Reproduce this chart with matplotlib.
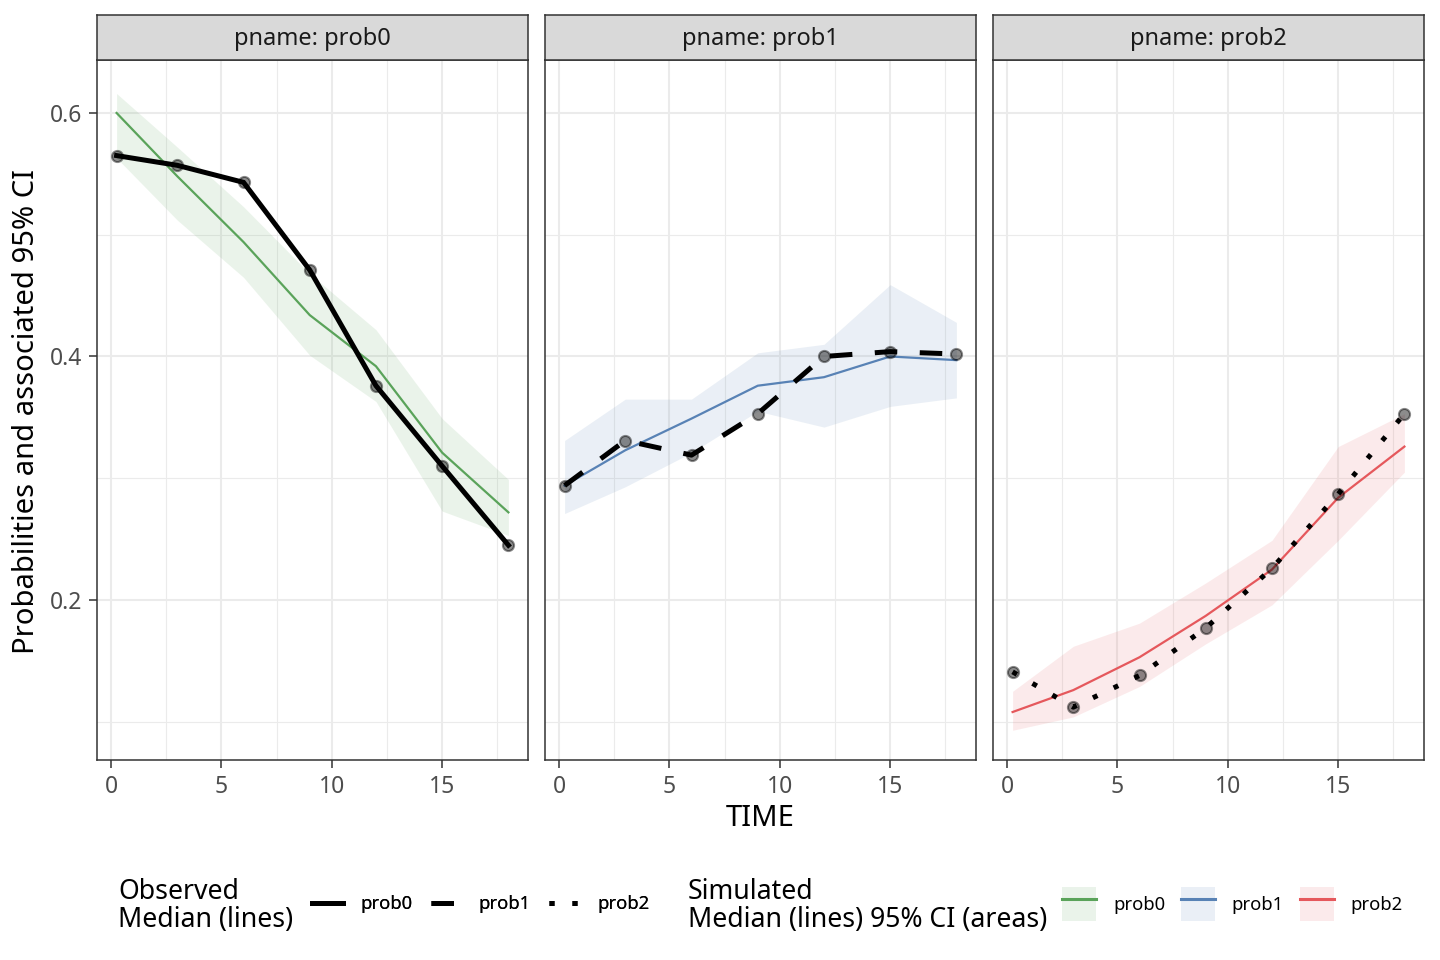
import matplotlib
matplotlib.use("Agg")
import matplotlib.pyplot as plt
from matplotlib.lines import Line2D
from matplotlib.patches import Patch
from matplotlib.legend_handler import HandlerTuple

plt.rcParams['font.family'] = ['Noto Sans', 'DejaVu Sans']

# ---------------- data ----------------
time = [0.25, 3, 6, 9, 12, 15, 18]
panels = ["prob0", "prob1", "prob2"]

obs_prob0 = [0.565, 0.557, 0.543, 0.471, 0.376, 0.310, 0.245]
obs_prob1 = [0.294, 0.331, 0.319, 0.353, 0.400, 0.404, 0.402]
obs_prob2 = [0.141, 0.112, 0.138, 0.177, 0.226, 0.287, 0.353]

sim_med0 = [0.600, 0.548, 0.494, 0.434, 0.392, 0.321, 0.272]
sim_lo0 = [0.563, 0.512, 0.465, 0.401, 0.363, 0.273, 0.253]
sim_hi0 = [0.616, 0.572, 0.523, 0.468, 0.422, 0.349, 0.299]

sim_med1 = [0.294, 0.323, 0.349, 0.376, 0.383, 0.400, 0.397]
sim_lo1 = [0.271, 0.293, 0.321, 0.355, 0.342, 0.359, 0.366]
sim_hi1 = [0.331, 0.365, 0.365, 0.403, 0.410, 0.459, 0.428]

sim_med2 = [0.108, 0.126, 0.153, 0.187, 0.225, 0.284, 0.326]
sim_lo2 = [0.093, 0.104, 0.129, 0.164, 0.196, 0.249, 0.305]
sim_hi2 = [0.125, 0.162, 0.181, 0.214, 0.249, 0.326, 0.353]

x_ticks = [0, 5, 10, 15]
y_ticks = [0.2, 0.4, 0.6]

obs = [obs_prob0, obs_prob1, obs_prob2]
meds = [sim_med0, sim_med1, sim_med2]
los = [sim_lo0, sim_lo1, sim_lo2]
his = [sim_hi0, sim_hi1, sim_hi2]

# ---------------- style ----------------
colors = ["#5aa35a", "#5882b5", "#e5585c"]
fill_alpha = 0.12
obs_lw = 3.6
obs_styles = ["solid", (0, (4.5, 4.5)), (0, (1, 3.6))]
border_col = "#333333"
grid_col = "#EBEBEB"
tick_col = "#4D4D4D"

W, H = 1440, 960
fig = plt.figure(figsize=(14.4, 9.6), dpi=100)

lefts = [97, 545, 993]
pw = 431
ptop, pbot = 60, 760
strip_top = 15

xlim = (-0.6375, 18.8875)
ylim = (0.0686, 0.6435)

for i, name in enumerate(panels):
    ax = fig.add_axes([lefts[i] / W, 1 - pbot / H, pw / W, (pbot - ptop) / H])
    ax.set_xlim(*xlim)
    ax.set_ylim(*ylim)
    ax.set_xticks(x_ticks)
    ax.set_xticks([2.5, 7.5, 12.5, 17.5], minor=True)
    ax.set_yticks(y_ticks)
    ax.set_yticks([0.1, 0.3, 0.5], minor=True)
    ax.grid(True, which="major", color=grid_col, lw=1.5)
    ax.grid(True, which="minor", color=grid_col, lw=0.8)
    ax.set_axisbelow(True)
    for s in ax.spines.values():
        s.set_color(border_col)
        s.set_linewidth(1.1)
    ax.tick_params(axis="both", which="major", length=5.5, width=1.1, color=border_col,
                   labelcolor=tick_col, labelsize=16.5, pad=5)
    ax.tick_params(axis="both", which="minor", length=0)
    if i == 0:
        ax.set_yticklabels([f"{v:.1f}" for v in y_ticks])
    else:
        ax.tick_params(axis="y", which="major", length=0, labelleft=False)

    ax.fill_between(time, los[i], his[i], color=colors[i], alpha=fill_alpha, lw=0, zorder=2)
    ax.plot(time, meds[i], color=colors[i], lw=1.6, zorder=3)
    ax.plot(time, obs[i], color="black", lw=obs_lw, linestyle=obs_styles[i],
            dash_capstyle="butt", solid_joinstyle="miter", zorder=4)
    ax.plot(time, obs[i], linestyle="none", marker="o", markersize=8,
            markerfacecolor="black", markeredgecolor="black", markeredgewidth=1.5,
            alpha=0.45, zorder=5)

    # strip
    sax = fig.add_axes([lefts[i] / W, 1 - ptop / H, pw / W, (ptop - strip_top) / H])
    sax.set_facecolor("#D9D9D9")
    sax.set_xticks([])
    sax.set_yticks([])
    for s in sax.spines.values():
        s.set_color(border_col)
        s.set_linewidth(1.1)
    sax.text(0.5, 0.47, f"pname: {name}", ha="center", va="center", fontsize=17,
             color="#1A1A1A", transform=sax.transAxes)

fig.text(27 / W, 1 - 412 / H, "Probabilities and associated 95% CI", rotation=90,
         ha="center", va="center", fontsize=21, color="black")
fig.text(760 / W, 1 - 819 / H, "TIME", ha="center", va="center", fontsize=21, color="black")

# ---------------- legends ----------------
fig.text(118 / W, 1 - 906 / H, "Observed\nMedian (lines)", ha="left", va="center",
         fontsize=19.2, linespacing=1.04)
fig.text(688 / W, 1 - 906 / H, "Simulated\nMedian (lines) 95% CI (areas)", ha="left", va="center",
         fontsize=19.2, linespacing=1.04)

h1 = [Line2D([], [], color="black", lw=obs_lw, linestyle=st, dash_capstyle="butt")
      for st in obs_styles]
leg1 = fig.legend(h1, panels, loc="center left", bbox_to_anchor=(312 / W, 1 - 904 / H),
                  ncol=3, frameon=False, fontsize=13.3, handlelength=1.68, handletextpad=0.92,
                  columnspacing=1.0, borderpad=0, borderaxespad=0)
fig.add_artist(leg1)

h2 = [(Patch(facecolor=c, alpha=fill_alpha, lw=0), Line2D([], [], color=c, lw=2.2)) for c in colors]
leg2 = fig.legend(h2, panels, loc="center left", bbox_to_anchor=(1062 / W, 1 - 904 / H),
                  ncol=3, frameon=False, fontsize=13.3, handlelength=1.84, handleheight=2.4,
                  handletextpad=0.92, columnspacing=0.85, borderpad=0, borderaxespad=0,
                  handler_map={tuple: HandlerTuple(ndivide=1, pad=0)})

fig.savefig("out.png", dpi=100)
